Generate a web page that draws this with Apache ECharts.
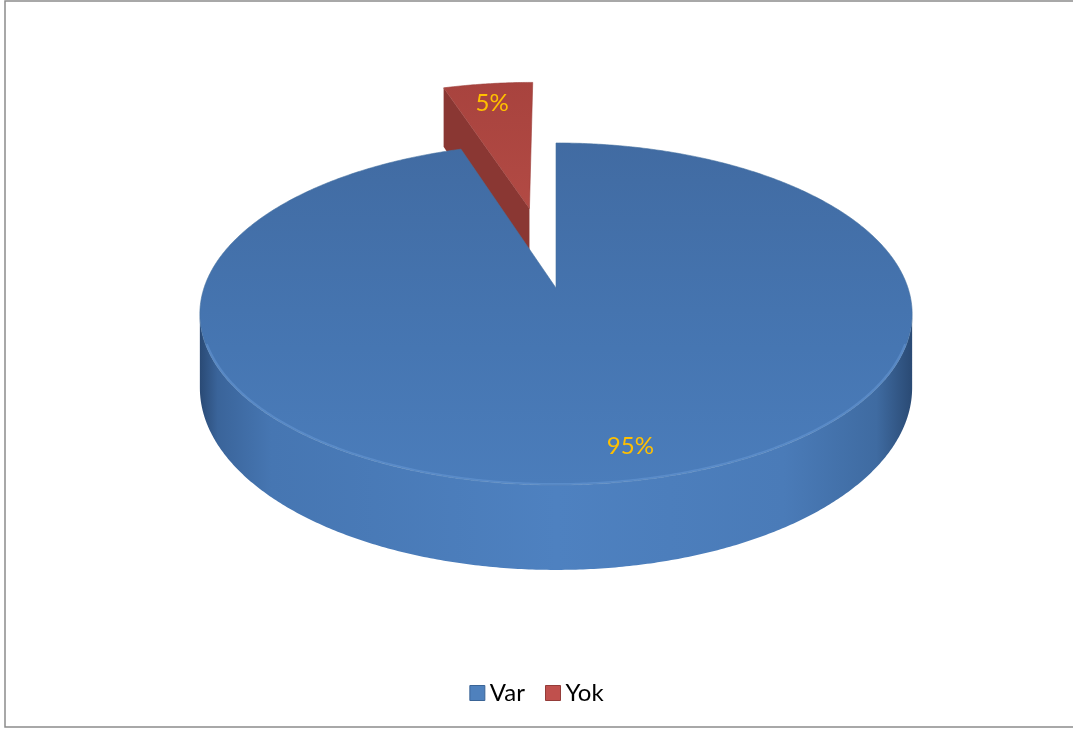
<!DOCTYPE html>
<html>
<head>
<meta charset="utf-8">
<script src="https://cdn.jsdelivr.net/npm/echarts@6/dist/echarts.min.js"></script>
<style>
html,body{margin:0;padding:0;background:#fff;}
#chart{width:1073px;height:731px;}
</style>
</head>
<body>
<div id="chart"></div>
<script>
// ---- data ----
const categories = ['Var', 'Yok'];
const values = [95, 5];
const labelTexts = ['95%', '5%'];
const explodeFlags = [0, 1];

// ---- 3D projection settings (style/layout) ----
const CX = 556, A = 288, B = 123.3, C = 352, K = -0.152, H = 72;
const EXPLODE = 0.52;
const total = values.reduce((s, v) => s + v, 0);
const starts = [];
{ let acc = 0; values.forEach(v => { starts.push(acc / total * 360); acc += v; }); }

function proj(u, v) { const d = 1 + K * v; return [CX + C * u / d, (A + B * v) / d]; }
function projB(u, v) { const d = 1 + K * v; return [CX + C * u / d, (A + B * v + H) / d]; }
function uv(deg, r, du, dv) { const t = deg * Math.PI / 180; return [du + r * Math.sin(t), dv - r * Math.cos(t)]; }

const topColors = [
  new echarts.graphic.LinearGradient(0, 0, 0, 1, [{offset:0,color:'#416ba2'},{offset:0.6,color:'#4676b2'},{offset:1,color:'#4b7dbb'}]),
  new echarts.graphic.LinearGradient(0, 0, 0, 1, [{offset:0,color:'#a8433e'},{offset:1,color:'#b24a44'}])
];
const sideBlue = new echarts.graphic.LinearGradient(0, 0, 1, 0, [
  {offset:0,color:'#2a4a75'},{offset:0.025,color:'#3a649a'},{offset:0.1,color:'#4676b2'},
  {offset:0.5,color:'#4e81c0'},{offset:0.82,color:'#4a7bb8'},{offset:0.95,color:'#3f6ba1'},{offset:1,color:'#2a4a74'}]);

function makeRender(idx) {
  return function (params, api) {
    const val = api.value(0);
    const a0 = starts[idx], a1 = a0 + val / total * 360;
    const mid = (a0 + a1) / 2;
    const ex = explodeFlags[idx] ? EXPLODE : 0;
    const du = ex * Math.sin(mid * Math.PI / 180), dv = -ex * Math.cos(mid * Math.PI / 180);
    const children = [];
    const wallA = Math.max(a0, 90 + Math.asin(-K) * 180 / Math.PI);
    const wallB = Math.min(a1, 270 - Math.asin(-K) * 180 / Math.PI);
    // side wall (front, visible part)
    if (wallB > wallA) {
      const pts = [];
      for (let t = wallA; t <= wallB + 1e-6; t += 0.5) { const p = uv(t, 1, du, dv); pts.push(proj(p[0], p[1])); }
      for (let t = wallB; t >= wallA - 1e-6; t -= 0.5) { const p = uv(t, 1, du, dv); pts.push(projB(p[0], p[1])); }
      children.push({ type: 'polygon', shape: { points: pts }, style: { fill: sideBlue } });
    }
    // cut face at start angle (visible for the exploded slice)
    if (ex > 0) {
      const r = uv(a0, 1, du, dv);
      const pts = [proj(du, dv), proj(r[0], r[1]), projB(r[0], r[1]), projB(du, dv)];
      children.push({ type: 'polygon', shape: { points: pts }, style: { fill: '#8a3733' } });
    }
    // top face
    const top = [proj(du, dv)];
    for (let t = a0; t <= a1 + 1e-6; t += 0.5) { const p = uv(t, 1, du, dv); top.push(proj(p[0], p[1])); }
    children.push({ type: 'polygon', shape: { points: top }, style: { fill: topColors[idx], stroke: idx ? '#9a3d38' : '#44719f', lineWidth: 0.6 } });
    // soft rim highlight
    if (wallB > wallA) {
      const rim = [];
      for (let t = wallA + 10; t <= wallB - 10; t += 0.5) { const p = uv(t, 0.997, du, dv); rim.push(proj(p[0], p[1])); }
      children.push({ type: 'polyline', shape: { points: rim }, style: { stroke: 'rgba(120,170,230,0.35)', lineWidth: 2.5, fill: null } });
    }
    // label
    const lr = idx ? 0.83 : 0.86;
    const lp = uv(mid, lr, du, dv);
    const lpos = proj(lp[0], lp[1]);
    children.push({ type: 'text', style: { text: labelTexts[idx], x: lpos[0] + (idx ? -2 : 20), y: lpos[1] - (idx ? 0 : 5),
      fill: '#ffc000', font: '24px Lato', align: 'center', verticalAlign: 'middle', textAlign: 'center', textVerticalAlign: 'middle' } });
    return { type: 'group', children: children };
  };
}

const chart = echarts.init(document.getElementById('chart'), null, { renderer: 'canvas' });
const seriesOrder = [1, 0]; // back slice first so the front slice covers it
chart.setOption({
  backgroundColor: '#ffffff',
  animation: false,
  graphic: [{ type: 'rect', shape: { x: 5, y: 1, width: 1080, height: 726 }, style: { fill: null, stroke: '#8c8c8c', lineWidth: 1.5 }, z: 100 }],
  legend: {
    left: 'center', top: 676, icon: 'rect', itemWidth: 15, itemHeight: 15, itemGap: 20,
    data: [
      { name: categories[0], itemStyle: { color: '#4f81bd', borderColor: '#3a6496', borderWidth: 1 } },
      { name: categories[1], itemStyle: { color: '#c0504d', borderColor: '#943c39', borderWidth: 1 } }
    ],
    textStyle: { fontFamily: 'Lato', fontSize: 24, color: '#000', padding: [0, 0, 0, 0] }
  },
  series: seriesOrder.map(i => ({
    type: 'custom', name: categories[i], coordinateSystem: 'none', z: i === 0 ? 3 : 2,
    itemStyle: { color: i === 0 ? '#4f81bd' : '#c0504d' },
    renderItem: makeRender(i),
    data: [[values[i]]]
  }))
});
</script>
</body>
</html>
